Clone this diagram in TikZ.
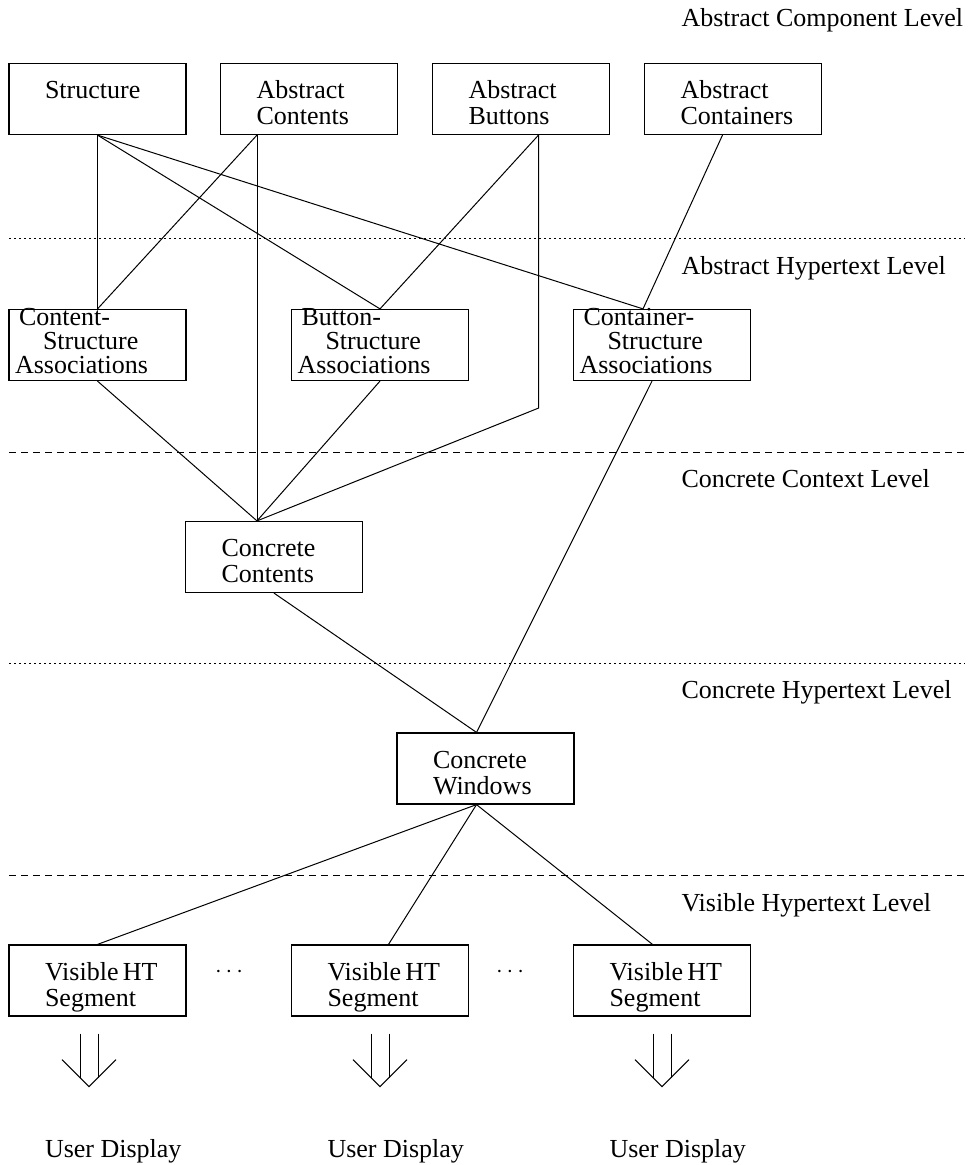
\documentclass[tikz,border=0pt]{standalone}
\usepackage{fontspec}
\setmainfont{Liberation Serif}
\hyphenpenalty=10000

\begin{document}
\begin{tikzpicture}[x=0.5pt, y=-0.5pt, line width=0.5pt,
    font=\fontsize{13}{13}\selectfont,
    box/.style={draw, line width=0.6pt, text width=52.5pt, inner xsep=18pt,
        inner ysep=0pt, align=flush left, text height=17.5pt, text depth=18pt},
    assoc/.style={box, text width=82.5pt, inner xsep=3pt, text height=8pt,
        text depth=27.5pt, font=\fontsize{13}{12}\selectfont},
    txt/.style={anchor=base west, inner sep=0pt},
    sepdot/.style={dash pattern=on 1pt off 1.5pt},
    sepdash/.style={dash pattern=on 3.5pt off 2.5pt}]
\useasboundingbox (0,0) rectangle (970,1165);

% Levels
\draw[sepdot] (9,239) -- (965,239);
\draw[sepdash] (9,452) -- (965,452);
\draw[sepdot] (9,663) -- (965,663);
\draw[sepdash] (9,875) -- (965,875);
\node[txt] (lev1) at (681,27) {Abstract Component Level};
\node[txt] (lev2) at (681,275) {Abstract Hypertext Level};
\node[txt] (lev3) at (681,487) {Concrete Context Level};
\node[txt] (lev4) at (681,698) {Concrete Hypertext Level};
\node[txt] (lev5) at (681,911) {Visible Hypertext Level};

% Abstract components
\node[box] (structure) at (97.5,99) {Structure};
\node[box] (abscont) at (309,99) {Abstract\\Contents};
\node[box] (absbutt) at (521,99) {Abstract\\Buttons};
\node[box] (abscontnr) at (733,99) {Abstract\\Containers};

% Associations
\node[assoc] (csassoc) at (97.5,345) {\hspace*{2pt}Content-\\\hspace*{14pt}Structure\\Associations};
\node[assoc] (bsassoc) at (380,345) {\hspace*{2pt}Button-\\\hspace*{14pt}Structure\\Associations};
\node[assoc] (ksassoc) at (662,345) {\hspace*{2pt}Container-\\\hspace*{14pt}Structure\\Associations};

% Concrete parts
\node[box] (conccont) at (274,557) {Concrete\\Contents};
\node[box] (concwin) at (485.5,768.5) {Concrete\\Windows};

% Segments and displays
\foreach \i/\x/\d in {1/97.5/-8.5,2/380/0,3/662/0} {
    \node[box] (seg\i) at (\x,980.5) {Visible~HT\\Segment};
    \node[txt] (disp\i) at (\x-53,1157) {User Display};
    \coordinate (tip\i) at ([shift={(\d,70)}]seg\i.south);
    \draw (tip\i) ++(-9,-53) -- ++(0,44) (tip\i) ++(9,-53) -- ++(0,44);
    \draw (tip\i) ++(-27,-27) -- (tip\i) -- ++(27,-27);
}
\node[anchor=base] (dots1) at (229,977) {$\cdots$};
\node[anchor=base] (dots2) at (510,977) {$\cdots$};

% Links
\coordinate (acbot) at ([shift={(-52,0)}]abscont.south);
\coordinate (abbot) at ([shift={(17.5,0)}]absbutt.south);
\coordinate (kstop) at ([shift={(-19,0)}]ksassoc.north);
\coordinate (cctop) at ([shift={(-17,0)}]conccont.north);
\coordinate (cwtop) at ([shift={(-9,0)}]concwin.north);
\coordinate (cwbot) at ([shift={(-9,0)}]concwin.south);
\draw (structure.south) -- (csassoc.north);
\draw (structure.south) -- (bsassoc.north);
\draw (structure.south) -- (kstop);
\draw (acbot) -- (csassoc.north);
\draw (acbot) -- (cctop);
\draw (abbot) -- (bsassoc.north);
\draw (abbot) -- ++(0,273) -- (cctop);
\draw ([shift={(-10.5,0)}]abscontnr.south) -- (kstop);
\draw (csassoc.south) -- (cctop);
\draw (bsassoc.south) -- (cctop);
\draw ([shift={(-10,0)}]ksassoc.south) -- (cwtop);
\draw (conccont.south) -- (cwtop);
\foreach \i/\d in {1/0,2/8.5,3/-9.5}
    \draw (cwbot) -- ([shift={(\d,0)}]seg\i.north);
\end{tikzpicture}
\end{document}
